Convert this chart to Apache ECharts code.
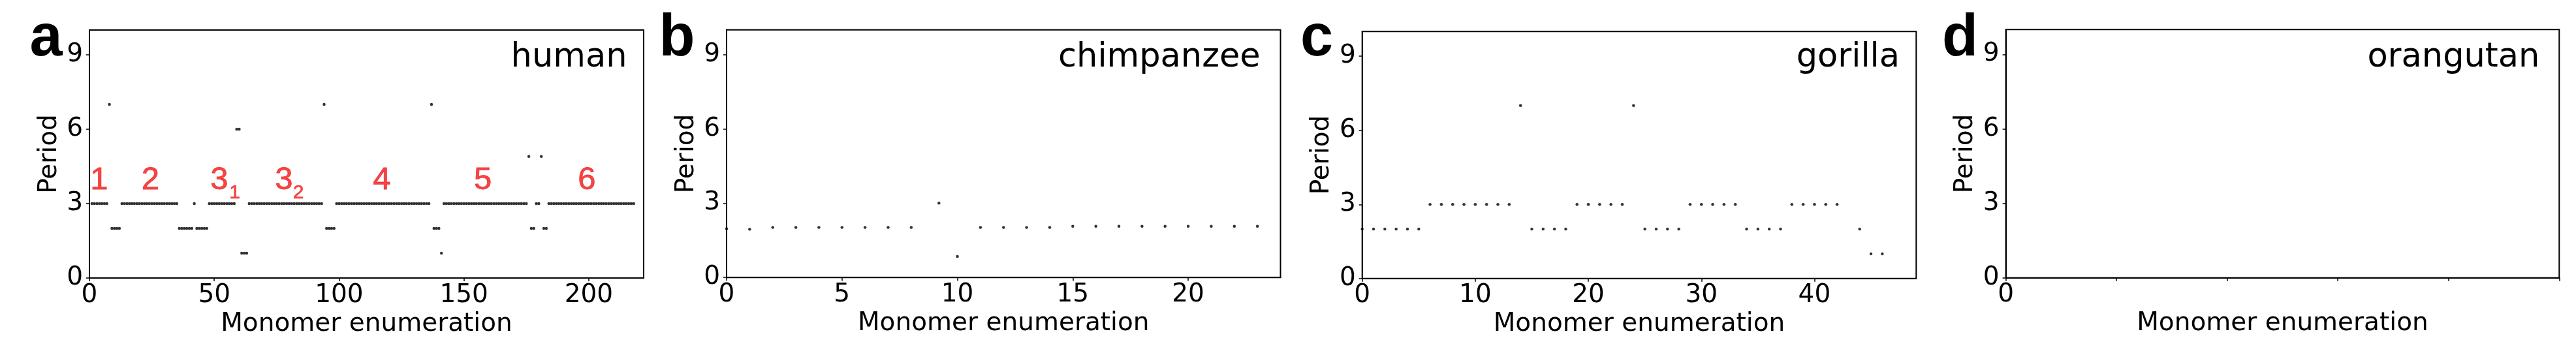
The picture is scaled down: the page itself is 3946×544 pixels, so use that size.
<!DOCTYPE html>
<html>
<head>
    <meta charset="utf-8">
    <title>Monomer periods</title>
    <script src="https://cdn.jsdelivr.net/npm/echarts@6/dist/echarts.min.js"></script>
    <style>
        html, body { margin: 0; padding: 0; background: #fff; }
    </style>
</head>
<body>
    <div id="main" style="width: 3946px;height:544px;"></div>
    <script type="text/javascript">
        // human: period of monomer 1..218
        var humanPeriod = [
            3, 3, 3, 3, 3, 3, 3,
            7,
            2, 2, 2, 2,
            3, 3, 3, 3, 3, 3, 3, 3, 3, 3, 3, 3, 3, 3, 3, 3, 3, 3, 3, 3, 3, 3, 3,
            2, 2, 2, 2, 2, 2,
            3,
            2, 2, 2, 2, 2,
            3, 3, 3, 3, 3, 3, 3, 3, 3, 3, 3,
            6, 6,
            1, 1, 1,
            3, 3, 3, 3, 3, 3, 3, 3, 3, 3, 3, 3, 3, 3, 3, 3, 3, 3, 3, 3, 3, 3, 3, 3, 3, 3, 3, 3, 3, 3,
            7,
            2, 2, 2, 2,
            3, 3, 3, 3, 3, 3, 3, 3, 3, 3, 3, 3, 3, 3, 3, 3, 3, 3, 3, 3, 3, 3, 3, 3, 3, 3, 3, 3, 3, 3, 3, 3, 3, 3, 3, 3, 3, 3,
            7,
            2, 2, 2,
            1,
            3, 3, 3, 3, 3, 3, 3, 3, 3, 3, 3, 3, 3, 3, 3, 3, 3, 3, 3, 3, 3, 3, 3, 3, 3, 3, 3, 3, 3, 3, 3, 3, 3, 3,
            4.9,
            2, 2,
            3, 3,
            4.9,
            2, 2,
            3, 3, 3, 3, 3, 3, 3, 3, 3, 3, 3, 3, 3, 3, 3, 3, 3, 3, 3, 3, 3, 3, 3, 3, 3, 3, 3, 3, 3, 3, 3, 3, 3, 3, 3
        ];

        var chimpMonomer = [0, 1, 2, 3, 4, 5, 6, 7, 8, 9.2, 10, 11, 12, 13, 14, 15, 16, 17, 18, 19, 20, 21, 22, 23];
        var chimpPeriod = [1.97, 1.95, 2.02, 2.02, 2.02, 2.02, 2.02, 2.02, 2.02, 3, 0.85, 2.02, 2.02, 2.02, 2.02,
            2.07, 2.07, 2.07, 2.07, 2.07, 2.07, 2.07, 2.07, 2.07];

        var gorillaMonomer = [0, 1, 2, 3, 4, 5, 6, 7, 8, 9, 10, 11, 12, 13, 14, 15, 16, 17, 18, 19, 20, 21, 22, 23,
            24, 25, 26, 27, 28, 29, 30, 31, 32, 33, 34, 35, 36, 37, 38, 39, 40, 41, 42, 44, 45, 46];
        var gorillaPeriod = [2, 2, 2, 2, 2, 2, 3, 3, 3, 3, 3, 3, 3, 3, 7, 2, 2, 2, 2, 3, 3, 3, 3, 3,
            7, 2, 2, 2, 2, 3, 3, 3, 3, 3, 2, 2, 2, 2, 3, 3, 3, 3, 3, 2, 1, 1];

        // red repeat labels in panel a
        var segNames = ['1', '2', '3', '3', '4', '5', '6'];
        var segX = [3.9, 24.4, 52.0, 77.9, 117.1, 157.6, 199.2];
        var segY = 3.5;
        var subNames = ['1', '2'];
        var subX = [58.2, 83.7];
        var subY = 3.14;

        var panelNames = ['human', 'chimpanzee', 'gorilla', 'orangutan'];
        var panelLetters = ['a', 'b', 'c', 'd'];
        var xMax = [222, 24, 49, 5];
        var xTicks = [[0, 50, 100, 150, 200], [0, 5, 10, 15, 20], [0, 10, 20, 30, 40], [0, 1, 2, 3, 4, 5]];
        var xTickLabels = [[0, 50, 100, 150, 200], [0, 5, 10, 15, 20], [0, 10, 20, 30, 40], [0]];
        var periodTicks = [0, 3, 6, 9];

        var myChart = echarts.init(document.getElementById('main'));

        var font = 'DejaVu Sans';
        var grids = [
            {left: 137, top: 46, width: 849, height: 380},
            {left: 1113, top: 45.7, width: 848.5, height: 379.5},
            {left: 2086.7, top: 48.3, width: 848.6, height: 378.5},
            {left: 3072.6, top: 45.2, width: 847.7, height: 380.6}
        ];
        var letterX = [45.5, 1009.5, 1992, 2975];
        var titleRight = [960.5, 1930.7, 2910, 3890.4];

        var xAxes = [], yAxes = [], graphics = [];
        for (var i = 0; i < 4; i++) {
            grids[i].show = true;
            grids[i].borderColor = '#000';
            grids[i].borderWidth = 2;
            grids[i].outerBoundsMode = 'none';
            xAxes.push({
                type: 'value', gridIndex: i, min: 0, max: xMax[i],
                name: 'Monomer enumeration', nameLocation: 'middle', nameGap: 51,
                nameTextStyle: {fontFamily: font, fontSize: 39, color: '#000'},
                axisLine: {show: true, lineStyle: {color: '#000', width: 2}},
                axisTick: {show: true, length: 5, customValues: xTicks[i], lineStyle: {color: '#000', width: 1.5}},
                axisLabel: {customValues: xTickLabels[i], margin: 7, fontFamily: font, fontSize: 39, color: '#000'},
                splitLine: {show: false}
            });
            yAxes.push({
                type: 'value', gridIndex: i, min: 0, max: 10,
                name: 'Period', nameLocation: 'middle', nameGap: 42,
                nameTextStyle: {fontFamily: font, fontSize: 39, color: '#000'},
                axisLine: {show: true, lineStyle: {color: '#000', width: 2}},
                axisTick: {show: true, length: 5, customValues: periodTicks, lineStyle: {color: '#000', width: 1.5}},
                axisLabel: {customValues: periodTicks, margin: 10, fontFamily: font, fontSize: 39, color: '#000'},
                splitLine: {show: false}
            });
            graphics.push({
                type: 'text', x: letterX[i], y: 60.5, z: 10,
                style: {text: panelLetters[i], font: 'bold 90px "Liberation Sans"', fill: '#000',
                    textAlign: 'left', textVerticalAlign: 'middle'}
            });
            graphics.push({
                type: 'text', x: titleRight[i], y: 88.5, z: 10,
                style: {text: panelNames[i], font: '51px "DejaVu Sans"', fill: '#000',
                    textAlign: 'right', textVerticalAlign: 'middle'}
            });
        }

        var dotStyle = {color: '#000'};
        var dotSize = 4.5;
        var red = '#f01818';
        var series = [
            {
                type: 'scatter', xAxisIndex: 0, yAxisIndex: 0, symbolSize: dotSize, itemStyle: dotStyle,
                data: humanPeriod.map(function (p, k) { return [k + 1, p]; })
            },
            {
                type: 'scatter', xAxisIndex: 1, yAxisIndex: 1, symbolSize: dotSize, itemStyle: dotStyle,
                data: chimpMonomer.map(function (m, k) { return [m, chimpPeriod[k]]; })
            },
            {
                type: 'scatter', xAxisIndex: 2, yAxisIndex: 2, symbolSize: dotSize, itemStyle: dotStyle,
                data: gorillaMonomer.map(function (m, k) { return [m, gorillaPeriod[k]]; })
            },
            {
                type: 'scatter', xAxisIndex: 0, yAxisIndex: 0, symbolSize: 0, silent: true,
                data: segNames.map(function (n, k) { return {name: n, value: [segX[k], segY]}; }),
                label: {
                    show: true, position: 'inside', offset: [0, -17],
                    formatter: '{b}', fontFamily: 'Liberation Sans', fontSize: 49, color: red,
                    textBorderColor: red, textBorderWidth: 0.8
                }
            },
            {
                type: 'scatter', xAxisIndex: 0, yAxisIndex: 0, symbolSize: 0, silent: true,
                data: subNames.map(function (n, k) { return {name: n, value: [subX[k], subY]}; }),
                label: {
                    show: true, position: 'inside', offset: [0, -10.5],
                    formatter: '{b}', fontFamily: 'Liberation Sans', fontSize: 30, color: red,
                    textBorderColor: red, textBorderWidth: 0.6
                }
            }
        ];

        var option = {
            backgroundColor: '#fff',
            animation: false,
            grid: grids,
            xAxis: xAxes,
            yAxis: yAxes,
            series: series,
            graphic: graphics
        };

        myChart.setOption(option);

        window.addEventListener("resize", function(){
            myChart.resize();
        })
    </script>
</body>
</html>
